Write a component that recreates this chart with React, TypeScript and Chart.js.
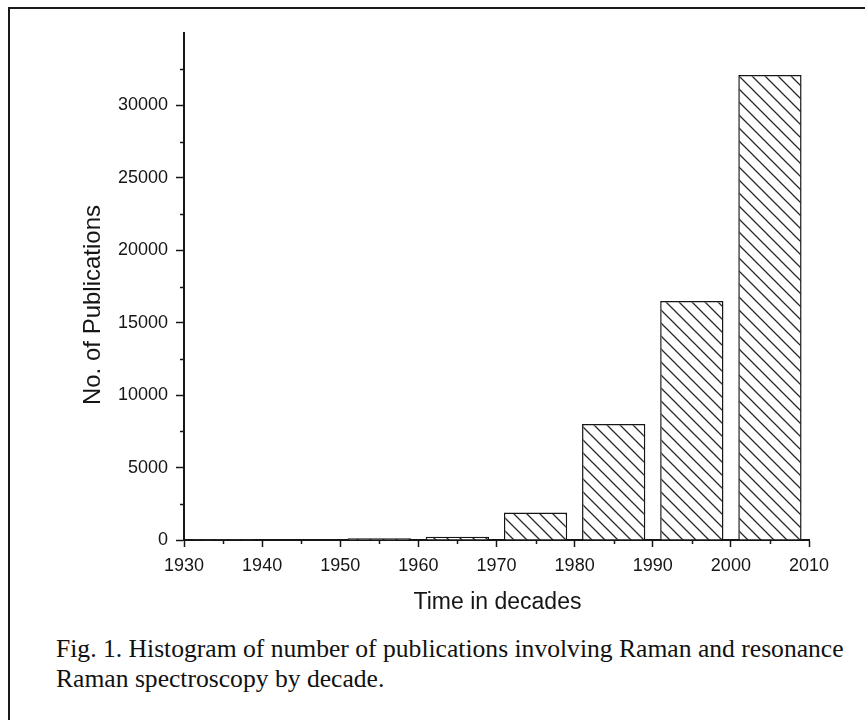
import React, { useEffect, useRef } from "react";
import { Chart, registerables } from "chart.js";

Chart.register(...registerables);

// Publications per decade (bars span each decade)
const decadeStarts = [1930, 1940, 1950, 1960, 1970, 1980, 1990, 2000];
const publications = [10, 30, 120, 230, 1900, 8000, 16500, 32100];

// Axis ranges and tick steps
const xRange = [1930, 2010];
const xStep = 10;
const yRange = [0, 35000];
const yStep = 5000;
const yHiddenTick = 35000;

const xTitle = "Time in decades";
const yTitle = "No. of Publications";
const captionLines = [
  "Fig. 1. Histogram of number of publications involving Raman and resonance",
  "Raman spectroscopy by decade.",
];

const INK = "#161616";
const SANS = '"Liberation Sans", Arial, Helvetica, sans-serif';
const SERIF = '"Liberation Serif", "Times New Roman", Times, serif';

function makeHatch(): CanvasPattern | string {
  const s = 13;
  const c = document.createElement("canvas");
  c.width = s;
  c.height = s;
  const g = c.getContext("2d");
  if (!g) return "#fff";
  g.fillStyle = "#ffffff";
  g.fillRect(0, 0, s, s);
  g.strokeStyle = "#2a2a2a";
  g.lineWidth = 1.3;
  g.beginPath();
  g.moveTo(-2, -2);
  g.lineTo(s + 2, s + 2);
  g.moveTo(-2, s - 2);
  g.lineTo(2, s + 2);
  g.moveTo(s - 2, -2);
  g.lineTo(s + 2, 2);
  g.stroke();
  return g.createPattern(c, "repeat") || "#fff";
}

// Minor ticks and axis titles
const decorations = {
  id: "decorations",
  afterDraw(chart: any) {
    const { ctx, chartArea } = chart;
    const x = chart.scales.x;
    const y = chart.scales.y;
    ctx.save();
    ctx.strokeStyle = INK;
    ctx.lineWidth = 1.5;
    ctx.beginPath();
    for (let v = xRange[0] + xStep / 2; v < xRange[1]; v += xStep) {
      const px = Math.round(x.getPixelForValue(v)) + 0.5;
      ctx.moveTo(px, chartArea.bottom);
      ctx.lineTo(px, chartArea.bottom + 4);
    }
    for (let v = yRange[0] + yStep / 2; v < yRange[1]; v += yStep) {
      const py = Math.round(y.getPixelForValue(v)) + 0.5;
      ctx.moveTo(chartArea.left, py);
      ctx.lineTo(chartArea.left - 4, py);
    }
    ctx.stroke();

    ctx.fillStyle = INK;
    ctx.font = `23px ${SANS}`;
    ctx.textAlign = "center";
    ctx.textBaseline = "alphabetic";
    ctx.fillText(xTitle, (chartArea.left + chartArea.right) / 2 + 1, 609);

    ctx.font = `24px ${SANS}`;
    ctx.translate(100, 305);
    ctx.rotate(-Math.PI / 2);
    ctx.fillText(yTitle, 0, 0);
    ctx.restore();
  },
};

function HistogramChart() {
  const ref = useRef<HTMLCanvasElement | null>(null);

  useEffect(() => {
    const canvas = ref.current;
    if (!canvas) return;
    const hatch = makeHatch();
    const chart = new Chart(canvas, {
      type: "bar",
      data: {
        datasets: [
          {
            data: decadeStarts.map((d, i) => ({ x: d + xStep / 2, y: publications[i] })),
            backgroundColor: hatch as any,
            borderColor: INK,
            borderWidth: 1.5,
            barPercentage: 0.81,
            categoryPercentage: 1,
          },
        ],
      },
      options: {
        responsive: false,
        animation: false,
        devicePixelRatio: 1,
        layout: { padding: { left: 0, top: 33, right: 56, bottom: 0 } },
        plugins: {
          legend: { display: false },
          tooltip: { enabled: false },
        },
        scales: {
          x: {
            type: "linear",
            min: xRange[0],
            max: xRange[1],
            offset: false,
            afterFit: (s: any) => {
              s.height = 80;
            },
            ticks: {
              stepSize: xStep,
              autoSkip: false,
              maxRotation: 0,
              padding: 8,
              color: INK,
              font: { family: SANS, size: 18 },
              callback: (v: any) => String(v),
            },
            grid: {
              offset: false,
              drawOnChartArea: false,
              drawTicks: true,
              tickLength: 7,
              tickWidth: 1.5,
              tickColor: INK,
            },
            border: { display: true, color: INK, width: 2 },
          },
          y: {
            min: yRange[0],
            max: yRange[1],
            afterFit: (s: any) => {
              s.width = 184;
            },
            ticks: {
              stepSize: yStep,
              padding: 8,
              color: INK,
              font: { family: SANS, size: 18 },
              callback: (v: any) => (v === yHiddenTick ? "" : String(v)),
            },
            grid: {
              drawOnChartArea: false,
              drawTicks: true,
              tickLength: 8,
              tickWidth: 1.5,
              tickColor: (c: any) => (c.tick && c.tick.value === yHiddenTick ? "rgba(0,0,0,0)" : INK),
            },
            border: { display: true, color: INK, width: 2 },
          },
        },
      },
      plugins: [decorations],
    } as any);
    return () => chart.destroy();
  }, []);

  return (
    <canvas
      ref={ref}
      width={865}
      height={620}
      style={{ position: "absolute", left: 0, top: 0, width: 865, height: 620, display: "block" }}
    />
  );
}

export default function App() {
  return (
    <div
      style={{
        position: "fixed",
        left: 0,
        top: 0,
        width: 865,
        height: 720,
        overflow: "hidden",
        background: "#fff",
      }}
    >
      <div
        style={{
          position: "absolute",
          left: 8,
          top: 7,
          width: 857,
          height: 713,
          borderLeft: "2px solid #1a1a1a",
          borderTop: "2px solid #1a1a1a",
          boxSizing: "border-box",
        }}
      />
      <HistogramChart />
      <div
        style={{
          position: "absolute",
          left: 56,
          top: 634,
          width: 809,
          fontFamily: SERIF,
          fontSize: 25.6,
          lineHeight: "30px",
          color: "#111",
          whiteSpace: "nowrap",
        }}
      >
        {captionLines.map((l, i) => (
          <div key={i}>{l}</div>
        ))}
      </div>
    </div>
  );
}
